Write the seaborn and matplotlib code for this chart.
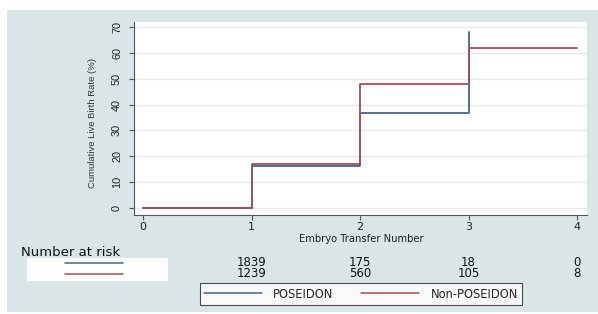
import matplotlib
matplotlib.use("Agg")
import matplotlib.pyplot as plt
import matplotlib.transforms as mtransforms
from matplotlib.patches import Rectangle
from matplotlib.lines import Line2D
import seaborn as sns
import pandas as pd

# ---- data ----
groups = ["POSEIDON", "Non-POSEIDON"]
poseidon_x = [0, 1, 2, 3]
poseidon_rate = [0, 16.4, 36.6, 68.1]
non_poseidon_x = [0, 1, 2, 3, 4]
non_poseidon_rate = [0, 17.0, 47.9, 61.7, 61.7]
risk_times = [1, 2, 3, 4]
risk_poseidon = [1839, 175, 18, 0]
risk_non_poseidon = [1239, 560, 105, 8]
y_ticks = [0, 10, 20, 30, 40, 50, 60, 70]
x_ticks = [0, 1, 2, 3, 4]

df = pd.concat([
    pd.DataFrame({"transfer": poseidon_x, "rate": poseidon_rate, "group": groups[0]}),
    pd.DataFrame({"transfer": non_poseidon_x, "rate": non_poseidon_rate, "group": groups[1]}),
], ignore_index=True)

BLUE = "#43658a"
RED = "#a24f57"
BG = "#dae5e8"
GRID = "#e3ebee"
AX = "#555555"

sns.set_theme(style="white")
plt.rcParams["font.family"] = ["DejaVu Sans"]

W, H = 598, 314
fig = plt.figure(figsize=(W / 100, H / 100), dpi=100, facecolor="white")

def fx(px):
    return px / W

def fy(py):
    return 1 - py / H

# outer graph region background
fig.patches.append(Rectangle((fx(7), fy(312)), fx(598) - fx(7), fy(10) - fy(312),
                             transform=fig.transFigure, facecolor=BG, edgecolor="none", zorder=-10))

ax = fig.add_axes([fx(134), fy(215), fx(587) - fx(134), fy(22) - fy(215)])
ax.set_facecolor("white")

sns.lineplot(data=df, x="transfer", y="rate", hue="group", hue_order=groups,
             palette=[BLUE, RED], drawstyle="steps-post", errorbar=None,
             linewidth=1.3, legend=False, ax=ax, zorder=3)

ax.set_xlim(-0.083, 4.092)
ax.set_ylim(-2.7, 71.9)
ax.set_yticks(y_ticks)
ax.set_xticks(x_ticks)
ax.set_yticklabels([str(v) for v in y_ticks], family="Liberation Sans", fontsize=7.8)
ax.set_xticklabels([str(v) for v in x_ticks], fontsize=8)
for lbl in ax.get_yticklabels():
    lbl.set_rotation(90)
    lbl.set_va("center")
    lbl.set_ha("right")

for y in y_ticks:
    ax.axhline(y, color=GRID, lw=1.0, zorder=0)

for s in ["top", "right"]:
    ax.spines[s].set_visible(False)
for s in ["left", "bottom"]:
    ax.spines[s].set_color(AX)
    ax.spines[s].set_linewidth(0.8)
ax.tick_params(axis="both", which="major", length=3.6, width=0.8, color=AX,
               labelcolor="#222222", left=True, bottom=True)
ax.tick_params(axis="y", pad=5)
ax.tick_params(axis="x", pad=1.5)

ax.set_ylabel("Cumulative Live Birth Rate (%)", family="Liberation Sans", fontsize=6.8, color="#333333")
ax.yaxis.set_label_coords(-0.082, 0.475)
ax.set_xlabel("Embryo Transfer Number", fontsize=7.2, color="#222222", va="center")
ax.xaxis.set_label_coords(0.501, -0.125)

# ---- number at risk table ----
fig.text(fx(21), fy(252), "Number at risk", fontsize=9.5, va="center", ha="left", color="#111111")
fig.patches.append(Rectangle((fx(27), fy(281)), fx(168) - fx(27), fy(258) - fy(281),
                             transform=fig.transFigure, facecolor="white", edgecolor="none", zorder=-5))
fig.add_artist(Line2D([fx(65), fx(123)], [fy(262.5), fy(262.5)], transform=fig.transFigure, color=BLUE, lw=1.1))
fig.add_artist(Line2D([fx(65), fx(123)], [fy(273.5), fy(273.5)], transform=fig.transFigure, color=RED, lw=1.1))

trans = mtransforms.blended_transform_factory(ax.transData, fig.transFigure)
for t, n1, n2 in zip(risk_times, risk_poseidon, risk_non_poseidon):
    ax.text(t, fy(268.2), f"{n1}\n{n2}", transform=trans, ha="center", va="center",
            multialignment="center", fontsize=8.5, linespacing=0.84,
            color="#111111", clip_on=False)

# ---- legend ----
handles = [Line2D([], [], color=BLUE, lw=1.1), Line2D([], [], color=RED, lw=1.1)]
leg = fig.legend(handles, groups, loc="center", bbox_to_anchor=(fx(361), fy(294)),
                 ncol=2, fontsize=8.3, frameon=True, fancybox=False, handlelength=5.0,
                 handletextpad=1.0, columnspacing=2.4, borderpad=0.35, borderaxespad=0)
leg.get_frame().set_edgecolor("#222222")
leg.get_frame().set_linewidth(0.8)
leg.get_frame().set_facecolor("white")

fig.savefig("out.png", dpi=100, facecolor=fig.get_facecolor())
